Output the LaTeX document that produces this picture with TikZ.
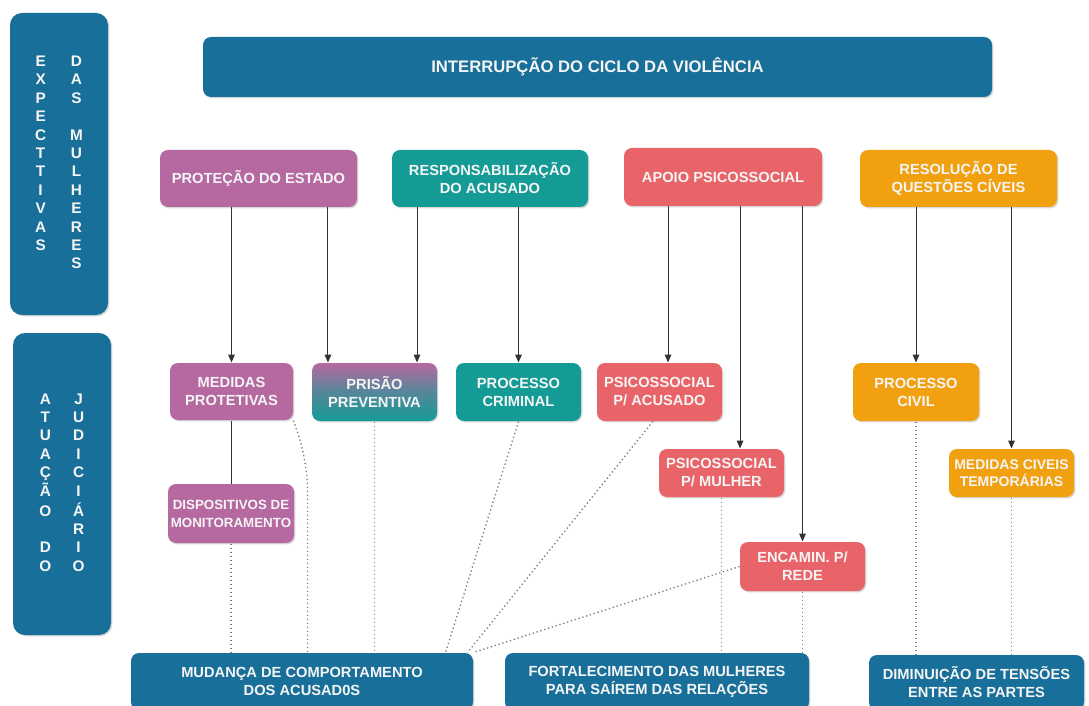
\documentclass[tikz,border=0pt]{standalone}
\usepackage{fontspec}
\setmainfont{Liberation Sans}
\usetikzlibrary{arrows.meta,shadows}

\definecolor{azulbox}{RGB}{24,111,153}
\definecolor{rosabox}{RGB}{181,105,160}
\definecolor{verdebox}{RGB}{20,155,150}
\definecolor{coralbox}{RGB}{233,100,104}
\definecolor{laranjabox}{RGB}{241,161,16}

\tikzset{every picture/.style={line width=0.75pt}}
\tikzset{
  tam/.style 2 args={minimum width=#1*0.75pt, minimum height=#2*0.75pt},
  caixa/.style={rounded corners=6pt, inner sep=1pt, align=center, text=white!96!black,
    font=\fontsize{11}{13.5}\selectfont\bfseries,
    drop shadow={shadow xshift=1pt, shadow yshift=-1pt, opacity=0.3}},
  painel/.style={caixa, fill=azulbox, rounded corners=9pt, font=\fontsize{11.5}{13.8}\selectfont\bfseries},
  seta/.style={draw=black!80, -{Triangle[length=6pt,width=5pt]}},
  pontilhado/.style={draw=black!50, dotted, line width=1pt},
}

\begin{document}
\begin{tikzpicture}[x=0.75pt,y=0.75pt,yscale=-1,xscale=1]
	\useasboundingbox (0,0) rectangle (1089,706);
	\fill[white] (0,0) rectangle (1089,706);
	\clip (0,0) rectangle (1089,706);
	
	%Side panels
	\node[painel, tam={98}{302}] (expect) at (59,164) {\begin{tabular}{c@{\hspace{18pt}}c}
			E&D\\X&A\\P&S\\E&\\C&M\\T&U\\T&L\\I&H\\V&E\\A&R\\S&E\\&S
	\end{tabular}};
	\node[painel, tam={98}{302}] (atuacao) at (62,484) {\begin{tabular}{c@{\hspace{16pt}}c}
			A&J\\T&U\\U&D\\A&I\\Ç&C\\Ã&I\\O&Á\\&R\\D&I\\O&O
	\end{tabular}};
	
	%Rounded Rect: banner
	\node[caixa, fill=azulbox, tam={789}{60}, font=\fontsize{12.5}{14}\selectfont\bfseries] (ciclo) at (597.5,67) {INTERRUPÇÃO DO CICLO DA VIOLÊNCIA};
	
	%Rounded Rect: expectations row
	\node[caixa, fill=rosabox, tam={197}{57}] (protecao) at (258.5,178.5) {PROTEÇÃO DO ESTADO};
	\node[caixa, fill=verdebox, tam={196}{57}] (respons) at (490,178.5) {RESPONSABILIZAÇÃO\\DO ACUSADO};
	\node[caixa, fill=coralbox, tam={198}{58}] (apoio) at (723,177) {APOIO PSICOSSOCIAL};
	\node[caixa, fill=laranjabox, tam={197}{57}] (resolucao) at (958.5,178.5) {RESOLUÇÃO DE\\QUESTÕES CÍVEIS};
	
	%Rounded Rect: judiciary row
	\node[caixa, fill=rosabox, tam={123}{57}] (medidas) at (231.5,391.5) {MEDIDAS\\PROTETIVAS};
	\node[caixa, top color=rosabox, bottom color=verdebox, middle color=verdebox!60!rosabox, tam={125}{58}] (prisao) at (374.5,392) {PRISÃO\\PREVENTIVA};
	\node[caixa, fill=verdebox, tam={125}{58}] (criminal) at (518.5,392) {PROCESSO\\CRIMINAL};
	\node[caixa, fill=coralbox, tam={125}{58}] (acusado) at (659.5,392) {PSICOSSOCIAL\\P/ ACUSADO};
	\node[caixa, fill=laranjabox, tam={126}{58}] (civil) at (916,392) {PROCESSO\\CIVIL};
	\node[caixa, fill=coralbox, tam={125}{48}] (mulher) at (721.5,473) {PSICOSSOCIAL\\P/ MULHER};
	\node[caixa, fill=laranjabox, tam={125}{48}, font=\fontsize{10.5}{13}\selectfont\bfseries] (civeis) at (1011.5,473) {MEDIDAS CIVEIS\\TEMPORÁRIAS};
	\node[caixa, fill=rosabox, tam={126}{59}, font=\fontsize{10}{13.5}\selectfont\bfseries] (dispositivos) at (231,513.5) {DISPOSITIVOS DE\\MONITORAMENTO};
	\node[caixa, fill=coralbox, tam={125}{49}] (encamin) at (802.5,566.5) {ENCAMIN. P/\\REDE};
	
	%Rounded Rect: results row
	\node[caixa, fill=azulbox, tam={342}{57}] (mudanca) at (302,681.5) {MUDANÇA DE COMPORTAMENTO\\DOS ACUSAD0S};
	\node[caixa, fill=azulbox, tam={304}{57}] (fortalec) at (657,681.5) {FORTALECIMENTO DAS MULHERES\\PARA SAÍREM DAS RELAÇÕES};
	\node[caixa, fill=azulbox, tam={215}{55}] (diminuicao) at (976.5,682.5) {DIMINUIÇÃO DE TENSÕES\\ENTRE AS PARTES};
	
	%Straight Lines
	\coordinate (pr1) at ([xshift=-34.9pt]prisao.north);
	\coordinate (pr2) at ([xshift=31.9pt]prisao.north);
	\coordinate (ac1) at ([xshift=6.4pt]acusado.north);
	\coordinate (mu1) at ([xshift=13.9pt]mulher.north);
	\draw[seta] (medidas.north |- protecao.south) -- (medidas.north);
	\draw[seta] (pr1 |- protecao.south) -- (pr1);
	\draw[seta] (pr2 |- respons.south) -- (pr2);
	\draw[seta] (criminal.north |- respons.south) -- (criminal.north);
	\draw[seta] (ac1 |- apoio.south) -- (ac1);
	\draw[seta] (mu1 |- apoio.south) -- (mu1);
	\draw[seta] (encamin.north |- apoio.south) -- (encamin.north);
	\draw[seta] (civil.north |- resolucao.south) -- (civil.north);
	\draw[seta] (civeis.north |- resolucao.south) -- (civeis.north);
	\draw[draw=black!80] (medidas.south) -- (medidas.south |- dispositivos.north);
	
	%Dotted Lines
	\coordinate (md1) at ([xshift=-21pt]mudanca.north east);
	\coordinate (md2) at ([xshift=-4.5pt]mudanca.north east);
	\draw[pontilhado] (dispositivos.south) -- (dispositivos.south |- mudanca.north);
	\draw[pontilhado, rounded corners=20pt] (medidas.south east) -- ++(14,42) coordinate (mp) -- (mp |- mudanca.north);
	\draw[pontilhado] (prisao.south) -- (prisao.south |- mudanca.north);
	\draw[pontilhado] (criminal.south) -- (md1);
	\draw[pontilhado] ([xshift=-5pt]acusado.south) -- (md2);
	\draw[pontilhado] (encamin.west) -- (mudanca.north east);
	\draw[pontilhado] (mulher.south) -- (mulher.south |- fortalec.north);
	\draw[pontilhado] (encamin.south) -- (encamin.south |- fortalec.north);
	\draw[pontilhado] (civil.south) -- (civil.south |- diminuicao.north);
	\draw[pontilhado] (civeis.south) -- (civeis.south |- diminuicao.north);
	
\end{tikzpicture}
\end{document}
